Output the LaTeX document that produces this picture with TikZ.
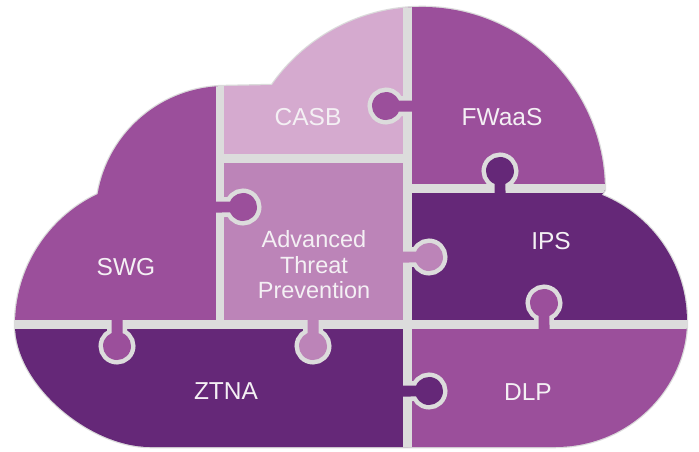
\documentclass[tikz,border=0pt]{standalone}
\usepackage{fontspec}
\setmainfont{Liberation Sans}
\definecolor{cA}{HTML}{9B4F9B}
\definecolor{cB}{HTML}{BC84B8}
\definecolor{cC}{HTML}{D5AACF}
\definecolor{cD}{HTML}{652878}
\definecolor{sepc}{HTML}{DCDCDC}
\definecolor{txt}{HTML}{F4F0F4}
\newcommand\cloudpath{(97.6,194.1) arc[start angle=189.7, end angle=270, radius=130] -- (272,85) arc[start angle=215, end angle=360, radius=183] -- (601.9,194.9) arc[start angle=292, end angle=360, radius=136] .. controls (687,385) and (632,447) .. (555,447) -- (150,447) .. controls (90,447) and (15,385) .. (15,325) arc[start angle=180, end angle=244.5, radius=145] -- cycle}
\newcommand\knobring[4]{%
  \begin{scope}[shift={(#1,#2)},rotate=#3]
    \draw[sepc, line width=9pt] (-#4,-5.5) -- (-12.87,-5.5) arc[start angle=203.1, end angle=516.9, radius=14] -- (-#4,5.5);
  \end{scope}}
\newcommand\knobfill[5]{%
  \begin{scope}[shift={(#1,#2)},rotate=#3]
    \fill[#5] (-#4-6,-5.5) -- (-12.87,-5.5) arc[start angle=203.1, end angle=516.9, radius=14] -- (-#4-6,5.5) -- cycle;
  \end{scope}}
\tikzset{
  lbl/.style={text=txt, font=\fontsize{24.5}{29}\selectfont, align=center, inner sep=0pt},
  sepline/.style={sepc, line width=8.5pt}
}
\begin{document}
\begin{tikzpicture}[x=1pt, y=-1pt]
\useasboundingbox (0,0) rectangle (699,451);
\draw[black!14, line width=2.5pt] \cloudpath;
\begin{scope}
  \clip \cloudpath;
  % pieces
  \fill[cA] (0,0) rectangle (220,324.5);       % SWG
  \fill[cC] (220,0) rectangle (407.5,158.5);   % CASB
  \fill[cB] (220,158.5) rectangle (407.5,324.5); % ATP
  \fill[cA] (407.5,0) rectangle (699,188.5);   % FWaaS
  \fill[cD] (407.5,188.5) rectangle (699,324.5); % IPS
  \fill[cD] (0,324.5) rectangle (407.5,451);   % ZTNA
  \fill[cA] (407.5,324.5) rectangle (699,451); % DLP
  % separators
  \draw[sepline] (220,0) -- (220,324.5);
  \draw[sepline] (220,158.5) -- (407.5,158.5);
  \draw[sepline] (407.5,0) -- (407.5,451);
  \draw[sepline] (407.5,188.5) -- (699,188.5);
  \draw[sepline] (0,324.5) -- (699,324.5);
  % knob rings
  \knobring{386}{106}{180}{21.5}
  \knobring{243}{207}{0}{23}
  \knobring{500}{171}{90}{17.5}
  \knobring{429}{257}{0}{21.5}
  \knobring{544}{303}{90}{21.5}
  \knobring{429}{391}{0}{21.5}
  \knobring{117}{346}{270}{21.5}
  \knobring{313}{346}{270}{21.5}
  % knob fills
  \knobfill{386}{106}{180}{21.5}{cA}
  \knobfill{243}{207}{0}{23}{cA}
  \knobfill{500}{171}{90}{17.5}{cD}
  \knobfill{429}{257}{0}{21.5}{cB}
  \knobfill{544}{303}{90}{21.5}{cA}
  \knobfill{429}{391}{0}{21.5}{cD}
  \knobfill{117}{346}{270}{21.5}{cA}
  \knobfill{313}{346}{270}{21.5}{cB}
\end{scope}
% labels
\node[lbl] (casb) at (308,117) {CASB};
\node[lbl] (fwaas) at (502,117) {FWaaS};
\node[lbl] (swg) at (126,267) {SWG};
\node[lbl, font=\fontsize{23.5}{25.5}\selectfont] (atp) at (314,265) {Advanced\\Threat\\Prevention};
\node[lbl] (ips) at (551,241) {IPS};
\node[lbl] (ztna) at (226,391) {ZTNA};
\node[lbl] (dlp) at (528,392) {DLP};
\end{tikzpicture}
\end{document}
